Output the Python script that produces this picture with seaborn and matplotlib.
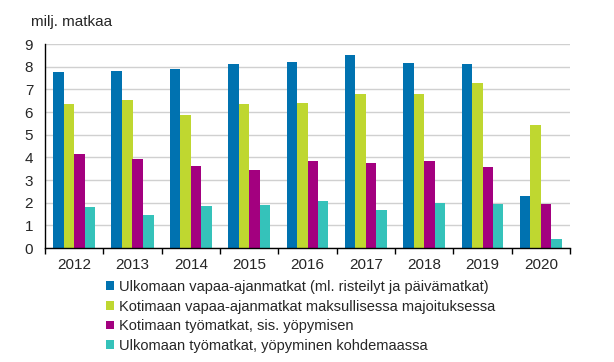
import matplotlib
matplotlib.use("Agg")
import matplotlib.pyplot as plt
import seaborn as sns
import pandas as pd
from matplotlib.ticker import MultipleLocator

# ==========================================================
# Data (milj. matkaa)
# ==========================================================

years = ["2012", "2013", "2014", "2015", "2016", "2017", "2018", "2019", "2020"]

series_names = [
    "Ulkomaan vapaa-ajanmatkat (ml. risteilyt ja päivämatkat)",
    "Kotimaan vapaa-ajanmatkat maksullisessa majoituksessa",
    "Kotimaan työmatkat, sis. yöpymisen",
    "Ulkomaan työmatkat, yöpyminen kohdemaassa",
]

ulkomaan_vapaa = [7.78, 7.82, 7.91, 8.13, 8.22, 8.52, 8.17, 8.13, 2.30]
kotimaan_vapaa = [6.36, 6.54, 5.88, 6.36, 6.41, 6.80, 6.80, 7.29, 5.44]
kotimaan_tyo = [4.16, 3.94, 3.63, 3.45, 3.85, 3.76, 3.85, 3.58, 1.95]
ulkomaan_tyo = [1.82, 1.47, 1.86, 1.91, 2.08, 1.69, 2.00, 1.95, 0.41]

colors = ["#0072B0", "#BFD730", "#A3007F", "#35C2BA"]

rows = []
for name, vals in zip(series_names, [ulkomaan_vapaa, kotimaan_vapaa, kotimaan_tyo, ulkomaan_tyo]):
    for yr, v in zip(years, vals):
        rows.append({"Vuosi": yr, "Sarja": name, "Arvo": v})
df = pd.DataFrame(rows)

# ==========================================================
# Plot
# ==========================================================

sns.set_style("white")
plt.rcParams["font.family"] = ["Liberation Sans", "DejaVu Sans"]

fig = plt.figure(figsize=(6.14, 3.62), dpi=100)
ax = fig.add_axes([45 / 614, 1 - 248 / 362, 525 / 614, 204 / 362])

sns.barplot(
    data=df,
    x="Vuosi",
    y="Arvo",
    hue="Sarja",
    hue_order=series_names,
    order=years,
    palette=colors,
    width=0.72,
    saturation=1,
    errorbar=None,
    linewidth=0,
    ax=ax,
)

ax.set_ylim(0, 9)
ax.set_xlim(-0.5, len(years) - 0.5)
ax.yaxis.set_major_locator(MultipleLocator(1))
ax.set_axisbelow(True)
ax.yaxis.grid(True, color="#D0D0D0", linewidth=1)
ax.xaxis.grid(False)

ax.set_xlabel("")
ax.set_ylabel("")

for side in ["top", "right"]:
    ax.spines[side].set_visible(False)
for side in ["left", "bottom"]:
    ax.spines[side].set_color("black")
    ax.spines[side].set_linewidth(1)

ax.tick_params(axis="x", which="major", length=0, labelsize=11, pad=7)
ax.tick_params(axis="y", which="major", length=0, labelsize=11, pad=8.5)
ax.set_xticks([i - 0.5 for i in range(len(years) + 1)], minor=True)
ax.tick_params(axis="x", which="minor", length=4, width=1, color="black", bottom=True)

fig.text(31 / 614, 1 - 22 / 362, "milj. matkaa", fontsize=11, va="center", ha="left")

handles, labels = ax.get_legend_handles_labels()
ax.legend_.remove()
fig.legend(
    handles,
    labels,
    loc="upper left",
    bbox_to_anchor=(106 / 614, 1 - 280 / 362),
    frameon=False,
    fontsize=10.5,
    handlelength=0.55,
    handleheight=0.55,
    handletextpad=0.35,
    labelspacing=0.38,
    borderaxespad=0,
    borderpad=0,
)

fig.savefig("out.png", dpi=100)
